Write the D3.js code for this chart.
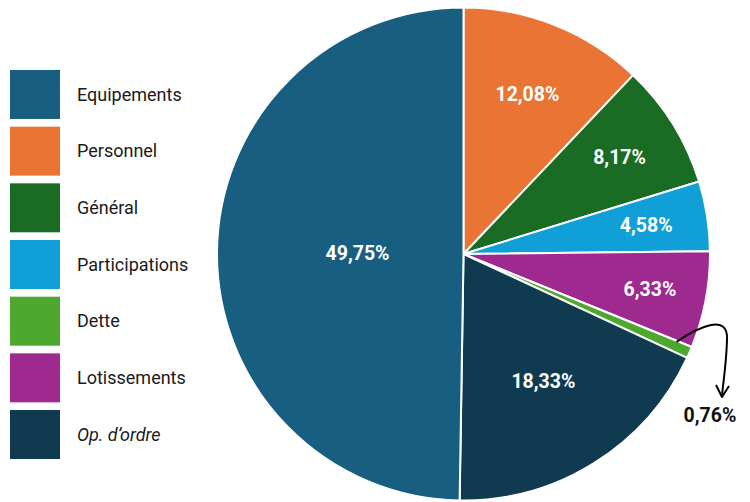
<!DOCTYPE html>
<html><head><meta charset="utf-8">
<script src="https://cdn.jsdelivr.net/npm/d3@7"></script>
<style>
html,body{margin:0;padding:0;background:#fff;}
svg{display:block;font-family:Roboto,"Noto Sans",sans-serif;}
</style></head>
<body>
<svg id="chart" width="750" height="502"></svg>
<script>
// Data (legend order)
const categories = ["Equipements","Personnel","Général","Participations","Dette","Lotissements","Op. d’ordre"];
const values = [49.75, 12.08, 8.17, 4.58, 0.76, 6.33, 18.33];
const valueLabels = ["49,75%","12,08%","8,17%","4,58%","0,76%","6,33%","18,33%"];
const colors = ["#175e80","#e97433","#1a6b24","#10a0d7","#4ea82f","#9e2a8f","#0f3a4f"];
// drawing order around the pie, clockwise from 12 o'clock
const pieOrder = ["Personnel","Général","Participations","Lotissements","Dette","Op. d’ordre","Equipements"];

const svg = d3.select("#chart");
const cx = 463.5, cy = 254, R = 246.5;

const data = categories.map((c,i)=>({cat:c, value:values[i], label:valueLabels[i], color:colors[i]}));
const ordered = pieOrder.map(c => data.find(d=>d.cat===c));

const pie = d3.pie().sort(null).value(d=>d.value);
const arcs = pie(ordered);
const arc = d3.arc().innerRadius(0).outerRadius(R);

const g = svg.append("g").attr("transform",`translate(${cx},${cy})`);
g.selectAll("path.slice").data(arcs).join("path")
  .attr("class","slice")
  .attr("d",arc)
  .attr("fill",d=>d.data.color)
  .attr("stroke","#fff")
  .attr("stroke-width",2)
  .attr("stroke-linejoin","round");

// label radius fraction (layout)
const labelFrac = {"Equipements":0.43,"Personnel":0.70,"Général":0.745,"Participations":0.75,"Lotissements":0.77,"Op. d’ordre":0.61};
const mid = d => (d.startAngle+d.endAngle)/2;
arcs.filter(d=>d.data.cat!=="Dette").forEach(d=>{
  const a = mid(d), r = R*labelFrac[d.data.cat];
  g.append("text")
    .attr("x", r*Math.sin(a))
    .attr("y", -r*Math.cos(a))
    .attr("dy","0.35em")
    .attr("text-anchor","middle")
    .attr("fill","#fff")
    .attr("font-weight","bold")
    .attr("font-size","19.5px")
    .text(d.data.label);
});

// Dette annotation with arrow
const dette = arcs.find(d=>d.data.cat==="Dette");
const sa = d3.scaleLinear().domain([0,1]).range([dette.startAngle, dette.endAngle]);
const aStart = sa(0.1), rs = R*0.935;
const x0 = rs*Math.sin(aStart), y0 = -rs*Math.cos(aStart);
const tip = {x: 722-cx, y: 397-cy};
const p = d3.path();
p.moveTo(x0,y0);
p.bezierCurveTo(x0+20, y0-14, 727-cx+2, 312-cy, 727-cx, 340-cy);
p.bezierCurveTo(726-cx, 370-cy, tip.x+0.5, 385-cy, tip.x, tip.y);
g.append("path").attr("d",p.toString()).attr("fill","none").attr("stroke","#000").attr("stroke-width",2);
g.append("path")
  .attr("d",`M${tip.x-6},${tip.y-12}L${tip.x},${tip.y}L${tip.x+7},${tip.y-11}`)
  .attr("fill","none").attr("stroke","#000").attr("stroke-width",2).attr("stroke-linejoin","round");
g.append("text")
  .attr("x", 710-cx).attr("y", 422-cy)
  .attr("text-anchor","middle")
  .attr("fill","#111")
  .attr("font-weight","bold")
  .attr("font-size","19.5px")
  .text(dette.data.label);

// Legend
const ly = d3.scaleBand().domain(categories).range([70, 459]).paddingInner(0.136).paddingOuter(0);
const leg = svg.append("g");
const items = leg.selectAll("g").data(data).join("g")
  .attr("transform",d=>`translate(10,${ly(d.cat)})`);
items.append("rect").attr("width",50).attr("height",ly.bandwidth()).attr("fill",d=>d.color);
items.append("text")
  .attr("x",67).attr("y",ly.bandwidth()/2).attr("dy","0.35em")
  .attr("font-size","18px").attr("fill","#1a1a1a")
  .attr("font-style",d=>d.cat.startsWith("Op.")?"italic":"normal")
  .text(d=>d.cat);
</script>
</body></html>
